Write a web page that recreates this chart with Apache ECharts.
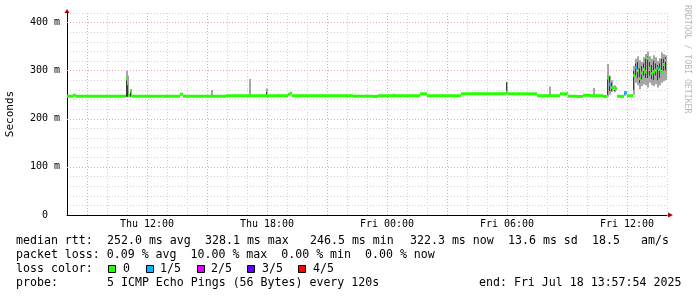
<!DOCTYPE html>
<html><head><meta charset="utf-8">
<script src="https://cdn.jsdelivr.net/npm/echarts@6/dist/echarts.min.js"></script>
<style>html,body{margin:0;padding:0;background:#fff;}#c{width:697px;height:297px;}</style>
</head><body><div id="c"></div>
<script>
// ---- DATA (time = hours since Thu 00:00) ----
const medTime = [8.00, 8.30, 8.45, 10.95, 11.05, 11.15, 11.25, 13.65, 13.80, 15.95,
  19.05, 19.15, 19.25, 22.30, 23.30, 23.55, 25.65, 26.00, 27.70, 29.95,
  30.05, 31.50, 32.65, 33.05, 33.45, 33.80, 34.15, 34.80, 35.00, 35.10,
  35.20, 35.35, 35.50, 35.65, 35.75, 35.85, 36.00, 36.30, 36.40, 36.50,
  36.60, 36.70, 36.80, 36.90, 37.00, 37.10, 37.20, 37.30, 37.40, 37.50,
  37.60, 37.70, 37.80, 37.90];
const medValue = [247, 249, 247, 283, 249, 258, 247, 251, 247, 248,
  251, 253, 248, 247, 246.5, 248, 252, 248, 252, 256,
  252, 248, 252, 247, 246.5, 249, 248, 246.5, 285, 272,
  265, 263, 247, 246.5, 247, 254, 248, 290, 306, 300,
  284, 295, 303, 298, 326, 305, 294, 298, 301, 305,
  303, 296, 313, 322];
const medLoss = [0,0,0,0,0,0,0,0,0,0,
  0,0,0,0,0,0,0,0,0,0,
  0,0,0,0,0,0,0,0,0,1,
  0,0,0,0,0,1,0,0,1,0,
  0,0,0,0,0,0,0,0,0,1,
  0,0,0,0];
const endTime = 37.965;

const smokeTime = [10.95, 11.00, 11.15, 15.20, 17.10, 17.95, 18.50, 24.30, 29.95, 32.10,
  34.30, 35.00, 35.10, 35.20, 35.35, 35.85, 36.30, 36.40, 36.50, 36.60,
  36.70, 36.80, 36.90, 37.00, 37.10, 37.20, 37.30, 37.40, 37.50, 37.60,
  37.70, 37.80, 37.90];
const smokeMin = [246, 246, 246, 248, 248, 248, 248, 248, 252, 248,
  248, 246, 250, 255, 255, 248, 250, 275, 270, 262,
  268, 272, 270, 265, 275, 270, 268, 272, 265, 270,
  275, 278, 280];
const smokeLo = [246, 246, 246, 248, 248, 248, 248, 248, 252, 248,
  248, 250, 258, 258, 258, 250, 260, 290, 285, 275,
  282, 290, 285, 285, 290, 282, 280, 290, 280, 285,
  295, 300, 300];
const smokeHi = [283, 270, 258, 250, 249, 255, 249, 249, 276, 249,
  249, 288, 288, 275, 262, 256, 300, 315, 318, 305,
  310, 315, 325, 330, 318, 312, 320, 315, 312, 315,
  325, 325, 328];
const smokeMax = [300, 290, 262, 260, 283, 263, 251, 252, 277, 267,
  264, 314, 290, 280, 270, 258, 310, 325, 330, 322,
  318, 328, 335, 340, 330, 325, 332, 328, 320, 326,
  338, 334, 332];

const xMajorHours = [9, 12, 15, 18, 21, 24, 27, 30, 33, 36];
const yMajorValues = [100, 200, 300, 400];
const xLabelHours = [12, 18, 24, 30, 36];
const xLabelText = ['Thu 12:00', 'Thu 18:00', 'Fri 00:00', 'Fri 06:00', 'Fri 12:00'];
const yLabelValues = [0, 100, 200, 300, 400];
const yLabelText = ['0  ', '100 m', '200 m', '300 m', '400 m'];

const lossColors = ['#26ff00', '#00b8ff', '#dd00ff', '#5e00ff', '#ff0000'];
const lossNames = ['0', '1/5', '2/5', '3/5', '4/5'];

const row1 = [['median rtt:', 16], ['252.0 ms avg', 107], ['328.1 ms max', 205], ['246.5 ms min', 310],
  ['322.3 ms now', 410], ['13.6 ms sd', 508], ['18.5', 592], ['am/s', 641]];
const row2 = [['packet loss: 0.09 % avg  10.00 % max  0.00 % min  0.00 % now', 16]];
const row4 = [['probe:', 16], ['5 ICMP Echo Pings (56 Bytes) every 120s', 107], ['end: Fri Jul 18 13:57:54 2025', 479]];

// ---- CHART ----
const MONO = '"DejaVu Sans Mono", monospace';
const GL = 67, GT = 13, GW = 600, GH = 202;
const SLOT = 0.1;
const BAND = 3;
const chart = echarts.init(document.getElementById('c'), null, {renderer: 'canvas'});

const medData = medTime.map((t, i) => [t, i + 1 < medTime.length ? medTime[i + 1] : endTime, medValue[i], medLoss[i]]);
const outerData = smokeTime.map((t, i) => [t, smokeMin[i], smokeMax[i]]);
const innerData = smokeTime.map((t, i) => [t, smokeLo[i], smokeHi[i]]);

function smokeRender(color, frac) {
  return function (params, api) {
    const t = api.value(0), lo = api.value(1), hi = api.value(2);
    const a = api.coord([t, hi]), b = api.coord([t + SLOT * frac, lo]);
    return {type: 'rect', shape: {x: a[0], y: a[1], width: Math.max(1, b[0] - a[0]), height: b[1] - a[1]},
      style: {fill: color}};
  };
}

const gridStyle = {color: '#d4d4d4', type: [1, 2], width: 1};
const majorStyle = {color: '#eaa8a8', type: [1, 2], width: 1};

const graphic = [];
function addText(text, x, y, extra) {
  graphic.push({type: 'text', x: x, y: y, silent: true,
    style: Object.assign({text: text, font: '11.6px ' + MONO, fill: '#000', verticalAlign: 'middle', align: 'left'}, extra || {})});
}
row1.forEach(r => addText(r[0], r[1], 241));
row2.forEach(r => addText(r[0], r[1], 255));
addText('loss color:', 16, 269);
const sqX = [108, 146, 197, 247, 298], lbX = [123, 160, 211, 262, 313];
lossNames.forEach((n, i) => {
  graphic.push({type: 'rect', silent: true, shape: {x: sqX[i] + 0.5, y: 265.5, width: 7, height: 7},
    style: {fill: lossColors[i], stroke: '#000', lineWidth: 1}});
  addText(n, lbX[i], 269);
});
row4.forEach(r => addText(r[0], r[1], 283));
graphic.push({type: 'text', x: 687, y: 5, rotation: -Math.PI / 2, silent: true,
  style: {text: 'RRDTOOL / TOBI OETIKER', font: '8.2px ' + MONO, fill: '#b8b8b8', align: 'left', verticalAlign: 'middle'}});
// axis arrows
graphic.push({type: 'polygon', silent: true, shape: {points: [[GL - 2.5, GT], [GL + 2.5, GT], [GL, GT - 4]]}, style: {fill: '#b00000'}});
graphic.push({type: 'polygon', silent: true, shape: {points: [[GL + GW + 1, GT + GH - 2.5], [GL + GW + 1, GT + GH + 2.5], [GL + GW + 6, GT + GH]]}, style: {fill: '#b00000'}});

const option = {
  backgroundColor: '#ffffff',
  animation: false,
  grid: {left: GL, top: GT, width: GW, height: GH, containLabel: false, outerBoundsMode: 'none'},
  xAxis: {
    type: 'value', min: 8, max: 38, interval: 1,
    axisLine: {show: true, lineStyle: {color: '#000', width: 1}},
    axisTick: {show: false},
    splitLine: {show: true, lineStyle: gridStyle},
    axisLabel: {margin: 4, fontFamily: MONO, fontSize: 10, color: '#000',
      formatter: v => { const k = xLabelHours.indexOf(v); return k >= 0 ? xLabelText[k] : ''; }}
  },
  yAxis: {
    type: 'value', min: 0, max: 420, interval: 20,
    name: 'Seconds', nameLocation: 'middle', nameRotate: 90, nameGap: 51,
    nameTextStyle: {fontFamily: MONO, fontSize: 11, color: '#000'},
    axisLine: {show: true, lineStyle: {color: '#000', width: 1}},
    axisTick: {show: false},
    splitLine: {show: true, lineStyle: gridStyle},
    axisLabel: {margin: 7, fontFamily: MONO, fontSize: 10, color: '#000',
      formatter: v => { const k = yLabelValues.indexOf(v); return k >= 0 ? yLabelText[k] : ''; }}
  },
  graphic: graphic,
  series: [
    {type: 'line', z: 1, data: [], silent: true,
      markLine: {silent: true, symbol: 'none', label: {show: false}, lineStyle: majorStyle,
        emphasis: {disabled: true},
        data: xMajorHours.map(h => ({xAxis: h})).concat(yMajorValues.map(v => ({yAxis: v})))}},
    {type: 'custom', z: 2, silent: true, data: outerData, renderItem: smokeRender('#a6a6a6', 1), clip: true},
    {type: 'custom', z: 3, silent: true, data: innerData, renderItem: smokeRender('#3a3a3a', 0.5), clip: true},
    {type: 'custom', z: 4, silent: true, data: medData, clip: true,
      renderItem: function (params, api) {
        const t0 = api.value(0), t1 = api.value(1), v = api.value(2), loss = api.value(3);
        const a = api.coord([t0, v]), b = api.coord([t1, v]);
        return {type: 'rect', shape: {x: a[0], y: a[1] - BAND / 2, width: b[0] - a[0], height: BAND},
          style: {fill: lossColors[loss]}};
      }}
  ]
};
chart.setOption(option);
</script>
</body></html>
